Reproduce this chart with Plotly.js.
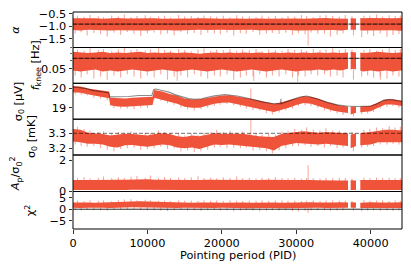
<!DOCTYPE html>
<html><head><meta charset="utf-8">
<script src="https://cdn.plot.ly/plotly-3.0.1.min.js"></script>
<style>html,body{margin:0;padding:0;background:#fff;}#chart{width:411px;height:272px;}</style>
</head><body><div id="chart"></div>
<script>
// shared PID grid (null values in series mark data gaps)
const PID = [0,1000,2000,3000,4000,5000,6000,7000,8000,9000,10000,11000,12000,13000,14000,15000,16000,17000,18000,19000,20000,21000,22000,23000,24000,25000,26000,27000,28000,29000,30000,31000,32000,33000,34000,35000,36000,36960,37140,37320,37680,38040,38330,38615,39000,40000,41000,42000,43000,44000,44220];
// PIDs of the fine noise excursions read along the band edges
const spikeUpPid = [600,1500,2300,3400,4100,5200,6100,6900,7800,8600,9700,10400,11500,12300,13100,14200,15000,15900,16800,17600,18500,19300,20200,21100,22000,22800,23700,24600,25400,26300,27200,28100,28900,29800,30700,31400,32300,33200,34000,34900,35800,36600,37500,39100,39900,40800,41600,42500,43300,44000];
const spikeDnPid = [300,1100,1900,2800,3700,4600,5500,6400,7300,8200,9100,10000,10900,11800,12700,13600,14500,15400,16300,17200,18100,19000,19800,20700,21600,22500,23300,24200,25100,26000,26800,27700,28600,29500,30300,31200,32000,32900,33800,34600,35500,36300,37700,38800,39600,40400,41300,42200,43000,43800];

// Panel 1: alpha
const alphaHi = [-0.68,-0.67,-0.69,-0.68,-0.7,-0.68,-0.67,-0.69,-0.68,-0.7,-0.69,-0.68,-0.7,-0.69,-0.68,-0.7,-0.69,-0.68,-0.7,-0.69,-0.7,-0.68,-0.69,-0.7,-0.68,-0.69,-0.7,-0.69,-0.68,-0.7,-0.69,-0.7,-0.68,-0.69,-0.67,-0.69,-0.68,-0.7,null,-0.68,-0.7,-0.69,null,-0.67,-0.68,-0.67,-0.68,-0.66,-0.68,-0.67,-0.68];
const alphaLo = [-1.16,-1.18,-1.15,-1.17,-1.16,-1.18,-1.17,-1.15,-1.16,-1.17,-1.18,-1.16,-1.15,-1.17,-1.18,-1.16,-1.17,-1.15,-1.16,-1.17,-1.15,-1.16,-1.17,-1.16,-1.15,-1.17,-1.16,-1.15,-1.17,-1.16,-1.18,-1.17,-1.16,-1.15,-1.17,-1.16,-1.18,-1.15,null,-1.14,-1.16,-1.15,null,-1.17,-1.18,-1.17,-1.16,-1.18,-1.17,-1.19,-1.18];
const alphaUpTip = [-0.58,-0.62,-0.55,-0.6,-0.64,-0.57,-0.61,-0.53,-0.63,-0.59,-0.56,-0.62,-0.6,-0.58,-0.65,-0.55,-0.61,-0.59,-0.63,-0.57,-0.6,-0.62,-0.58,-0.64,-0.56,-0.61,-0.6,-0.63,-0.57,-0.62,-0.59,-0.64,-0.58,-0.61,-0.55,-0.6,-0.63,-0.57,-0.56,-0.59,-0.62,-0.55,-0.6,-0.58,-0.57,-0.53,-0.61,-0.56,-0.59,-0.57];
const alphaDnTip = [-1.3,-1.25,-1.38,-1.28,-1.33,-1.42,-1.27,-1.35,-1.24,-1.31,-1.4,-1.29,-1.26,-1.34,-1.3,-1.37,-1.25,-1.32,-1.28,-1.36,-1.27,-1.3,-1.33,-1.26,-1.38,-1.29,-1.31,-1.24,-1.35,-1.3,-1.28,-1.32,-1.27,-1.36,-1.29,-1.33,-1.26,-1.31,-1.3,-1.42,-1.35,-1.3,-1.38,-1.45,-1.33,-1.4,-1.3,-1.43,-1.36,-1.32];
const alphaRef = -0.92;

// Panel 2: f_knee [Hz]
const fkHi = [0.073,0.072,0.071,0.072,0.073,0.071,0.072,0.071,0.072,0.073,0.071,0.072,0.071,0.072,0.071,0.072,0.071,0.07,0.071,0.072,0.071,0.072,0.071,0.072,0.071,0.072,0.071,0.072,0.071,0.072,0.071,0.072,0.071,0.072,0.071,0.072,0.071,0.072,null,0.073,0.072,0.072,null,0.072,0.071,0.072,0.073,0.072,0.071,0.072,0.071];
const fkLo = [0.048,0.047,0.048,0.049,0.047,0.048,0.047,0.048,0.049,0.048,0.047,0.048,0.049,0.048,0.047,0.048,0.049,0.048,0.047,0.048,0.049,0.048,0.047,0.048,0.049,0.048,0.047,0.048,0.049,0.048,0.047,0.048,0.048,0.049,0.048,0.049,0.048,0.05,null,0.049,0.05,0.049,null,0.048,0.047,0.048,0.047,0.048,0.047,0.048,0.048];
const fkUpTip = [0.077,0.075,0.079,0.076,0.078,0.074,0.077,0.08,0.076,0.078,0.075,0.077,0.079,0.076,0.075,0.078,0.076,0.074,0.077,0.079,0.075,0.077,0.076,0.078,0.075,0.077,0.076,0.078,0.074,0.077,0.076,0.075,0.078,0.076,0.077,0.075,0.078,0.076,0.077,0.079,0.076,0.078,0.077,0.076,0.078,0.075,0.077,0.079,0.076,0.078];
const fkDnTip = [0.043,0.041,0.044,0.04,0.042,0.039,0.043,0.041,0.044,0.042,0.04,0.043,0.041,0.044,0.039,0.042,0.043,0.041,0.044,0.042,0.04,0.043,0.042,0.044,0.039,0.041,0.043,0.042,0.044,0.041,0.043,0.042,0.044,0.041,0.043,0.042,0.044,0.043,0.044,0.042,0.043,0.041,0.039,0.042,0.043,0.041,0.042,0.04,0.043,0.042];
const fkRef = 0.063;

// Panel 3: sigma0 [uV] (own grid for the steps)
const sigPid = [0,1000,2000,3000,4000,4850,5000,6000,7000,8000,9000,10000,10700,10900,12000,13000,14000,15000,16000,17000,18000,19000,20000,21000,22000,23000,24000,25000,26000,27000,28000,29000,30000,31000,32000,33000,34000,35000,36000,36960,37140,37320,37680,38040,38330,38615,39000,40000,41000,42000,43000,44000,44220];
const sigHi = [20.1,20.08,19.98,19.93,19.86,19.82,19.5,19.48,19.47,19.5,19.52,19.53,19.55,19.9,19.82,19.7,19.6,19.46,19.42,19.43,19.5,19.58,19.62,19.63,19.58,19.5,19.44,19.35,19.26,19.2,19.28,19.38,19.5,19.58,19.55,19.45,19.3,19.18,19.1,19.06,null,19.04,19.05,19.05,null,19.06,19.07,19.1,19.26,19.42,19.43,19.36,19.35];
const sigLo = [19.78,19.76,19.68,19.6,19.52,19.48,19.12,19.06,19.05,19.08,19.1,19.12,19.14,19.5,19.43,19.3,19.2,19.05,19.0,19.0,19.1,19.2,19.25,19.26,19.2,19.1,19.02,18.94,18.85,18.78,18.9,19.0,19.14,19.24,19.2,19.08,18.95,18.84,18.78,18.72,null,18.65,18.68,18.74,null,18.76,18.78,18.82,19.0,19.16,19.16,19.1,19.1];
const sigDnFrom = [19.87,19.86,19.79,19.72,19.64,19.59,19.19,19.16,19.16,19.18,19.2,19.22,19.6,19.54,19.44,19.34,19.22,19.13,19.1,19.12,19.21,19.3,19.34,19.36,19.33,19.25,19.18,19.1,19.03,18.95,18.89,18.96,19.06,19.17,19.27,19.33,19.3,19.19,19.08,19.0,18.91,18.86,18.78,18.87,18.9,18.99,19.15,19.26,19.26,19.21];
const sigDnTip = [19.68,19.66,19.62,19.5,19.45,19.38,18.98,18.95,18.96,18.92,19.0,18.98,19.4,19.35,19.22,19.15,19.0,18.9,18.85,18.92,19.0,19.08,19.15,19.18,19.12,19.05,18.95,18.88,18.85,18.72,18.65,18.75,18.86,18.95,19.08,19.12,19.08,19.0,18.85,18.8,18.7,18.62,18.55,18.66,18.7,18.78,18.95,19.05,19.08,19.0];
const sigModelPid = [0,800,1700,2600,3900,4800,4950,6000,7500,8800,10600,10850,11100,12000,12900,13800,14700,15500,16400,17300,17800,19000,20400,21300,22100,23800,25600,27000,27900,27950,27960,29200,30500,31400,32800,34100,35500,36800,38200,40000,40900,41700,42600,43500,44220];
const sigModel = [20.05,20.0,19.98,19.88,19.79,19.76,19.55,19.55,19.57,19.62,19.62,19.93,19.95,19.87,19.79,19.65,19.54,19.46,19.43,19.45,19.5,19.6,19.67,19.64,19.59,19.45,19.28,19.2,19.2,19.45,19.2,19.37,19.54,19.59,19.45,19.28,19.14,19.08,19.06,19.08,19.2,19.37,19.42,19.36,19.31];

// Panel 4: sigma0 [mK]
const s4Hi = [3.33,3.325,3.305,3.3,3.295,3.285,3.29,3.298,3.295,3.29,3.285,3.295,3.3,3.295,3.28,3.275,3.285,3.28,3.29,3.3,3.298,3.3,3.297,3.295,3.285,3.28,3.278,3.275,3.295,3.305,3.31,3.315,3.31,3.305,3.31,3.305,3.3,3.3,null,3.29,3.295,3.3,null,3.3,3.305,3.31,3.32,3.325,3.325,3.32,3.32];
const s4Lo = [3.245,3.24,3.23,3.23,3.225,3.21,3.205,3.22,3.222,3.215,3.21,3.22,3.225,3.22,3.205,3.2,3.205,3.195,3.21,3.225,3.222,3.225,3.22,3.22,3.21,3.205,3.2,3.185,3.215,3.225,3.235,3.235,3.23,3.225,3.23,3.225,3.22,3.215,null,3.2,3.205,3.215,null,3.22,3.225,3.225,3.24,3.245,3.245,3.24,3.24];
const s4UpTip = [3.345,3.33,3.32,3.31,3.315,3.3,3.31,3.305,3.315,3.3,3.305,3.3,3.32,3.31,3.305,3.3,3.285,3.3,3.29,3.305,3.31,3.325,3.31,3.318,3.305,3.312,3.3,3.3,3.29,3.295,3.29,3.315,3.32,3.33,3.325,3.34,3.325,3.32,3.335,3.32,3.318,3.31,3.31,3.325,3.33,3.34,3.335,3.35,3.34,3.345];
const s4DnTip = [3.225,3.215,3.21,3.215,3.2,3.19,3.18,3.195,3.2,3.205,3.19,3.195,3.2,3.21,3.195,3.2,3.18,3.185,3.175,3.18,3.19,3.205,3.21,3.2,3.205,3.2,3.205,3.185,3.19,3.18,3.165,3.185,3.2,3.215,3.215,3.22,3.21,3.215,3.205,3.215,3.2,3.205,3.18,3.205,3.21,3.215,3.225,3.225,3.23,3.225];
const s4Ref = 3.3;

// Panel 5: A_p / sigma0^2
const apHi = [0.72,0.74,0.73,0.72,0.74,0.73,0.75,0.74,0.76,0.8,0.78,0.75,0.74,0.76,0.73,0.74,0.72,0.73,0.75,0.74,0.73,0.72,0.74,0.73,0.72,0.73,0.74,0.72,0.73,0.72,0.73,0.74,0.72,0.71,0.72,0.71,0.7,0.7,null,0.71,0.7,0.7,null,0.72,0.71,0.72,0.73,0.72,0.71,0.72,0.72];
const apLo = [0.07,0.08,0.07,0.09,0.08,0.07,0.08,0.07,0.09,0.08,0.07,0.08,0.09,0.07,0.08,0.07,0.08,0.09,0.07,0.08,0.07,0.08,0.09,0.08,0.07,0.08,0.07,0.09,0.08,0.07,0.08,0.07,0.08,0.09,0.08,0.07,0.08,0.08,null,0.08,0.09,0.08,null,0.08,0.07,0.08,0.07,0.08,0.09,0.08,0.08];
const apUpTip = [0.85,0.9,0.82,0.88,0.95,0.84,0.9,0.86,0.93,0.98,0.88,1.02,0.86,0.92,0.85,0.89,0.84,0.9,0.97,0.86,0.88,0.83,0.9,0.86,0.95,0.84,0.88,0.82,0.87,0.85,0.9,0.86,0.84,0.88,0.83,0.86,0.84,0.82,0.86,0.84,0.88,0.85,0.83,0.87,0.84,0.89,0.85,0.88,0.84,0.86];

// Panel 6: chi^2
const chiHi = [3.0,3.1,3.0,2.9,3.0,3.1,3.3,3.5,3.6,3.5,3.4,3.3,3.1,3.0,3.1,3.0,2.9,3.0,3.1,3.0,2.9,3.0,3.1,3.0,2.9,3.0,3.1,3.0,2.9,3.0,3.1,3.2,3.1,3.0,2.9,3.0,3.1,3.0,null,3.1,3.0,3.0,null,2.9,3.0,3.1,3.0,2.9,3.0,3.1,3.0];
const chiLo = [0.6,0.5,0.6,0.7,0.6,0.5,0.6,0.8,0.9,0.8,0.7,0.6,0.5,0.6,0.5,0.6,0.7,0.5,0.6,0.5,0.6,0.5,0.6,0.5,0.4,0.5,0.6,0.5,0.4,0.5,0.6,0.4,0.5,0.6,0.5,0.4,0.5,0.6,null,0.6,0.7,0.6,null,0.5,0.6,0.5,0.4,0.5,0.6,0.5,0.5];
const chiUpTip = [3.8,3.6,4.0,3.7,3.9,3.6,4.1,4.3,4.4,4.0,4.2,3.9,3.7,3.8,3.6,3.9,3.7,3.8,3.6,3.9,3.7,3.8,3.6,3.9,3.7,3.6,3.8,3.7,3.9,3.6,3.8,4.0,3.7,3.8,3.6,3.7,3.9,3.6,3.8,3.9,3.7,3.8,3.6,3.9,3.7,3.8,3.9,3.6,3.8,3.7];
const chiDnTip = [-0.3,-0.6,-0.2,-0.5,-0.4,-0.7,-0.3,-0.1,-0.2,0.1,-0.3,-0.5,-0.4,-0.6,-0.8,-0.5,-0.3,-0.6,-0.4,-0.7,-0.5,-0.3,-0.6,-0.4,-0.9,-0.6,-0.5,-0.7,-1.0,-0.6,-0.4,-0.6,-0.5,-0.8,-1.0,-0.7,-0.6,-0.4,-0.5,-0.7,-0.6,-0.5,-0.7,-0.9,-0.6,-0.5,-0.7,-0.6,-0.8,-0.6];

// isolated outliers
const spikes1 = {x:[31600], from:[-1.15], to:[-1.78]};
const spikes2 = {x:[14000,24300,30200,41300], from:[0.048,0.048,0.047,0.047], to:[0.038,0.038,0.0373,0.039]};
const spikes3 = {x:[23900], from:[19.4], to:[19.97]};
const spikes4 = {x:[23900], from:[3.29], to:[3.39]};
const spikes5 = {x:[31600], from:[0.7], to:[1.69]};
const spikes6 = {x:[31600], from:[0.5], to:[-1.6]};

const xTicks = [0,10000,20000,30000,40000];
const xMax = 44220;

const RED = 'rgb(239,83,58)';
const RED_L = 'rgba(239,83,58,0.5)';
const FONT = 'DejaVu Sans';
const FS = 11.3;

function band(xs, lo, hi){
  const X=[],Y=[]; let seg=[];
  const flush=()=>{ if(seg.length){ seg.forEach(i=>{X.push(xs[i]);Y.push(hi[i]);}); seg.slice().reverse().forEach(i=>{X.push(xs[i]);Y.push(lo[i]);}); X.push(null);Y.push(null);} seg=[]; };
  for(let i=0;i<xs.length;i++){ if(lo[i]==null||hi[i]==null) flush(); else seg.push(i); }
  flush();
  return {X,Y};
}
function bandTrace(xs, lo, hi, ax, color){
  const b = band(xs, lo, hi);
  return {x:b.X, y:b.Y, yaxis:ax, xaxis:'x', type:'scatter', mode:'lines', fill:'toself', fillcolor:color, line:{width:0, color:color}, hoverinfo:'skip', showlegend:false};
}
function spikeTrace(xs, from, to, ax, color, w){
  const X=[],Y=[];
  xs.forEach((v,i)=>{const f = Array.isArray(from)?from[i]:from; X.push(v,v,null);Y.push(f,to[i],null);});
  return {x:X, y:Y, yaxis:ax, type:'scatter', mode:'lines', line:{width:w||1, color:color}, showlegend:false, hoverinfo:'skip'};
}
function sp(s, ax){ return spikeTrace(s.x, s.from, s.to, ax, RED_L, 1); }
function hline(v, ax, color, dash, w){
  return {x:[0,xMax], y:[v,v], yaxis:ax, type:'scatter', mode:'lines', line:{width:w, color:color, dash:dash}, showlegend:false, hoverinfo:'skip'};
}

const traces = [
  spikeTrace(spikeUpPid, alphaRef, alphaUpTip, 'y', RED_L, 1.1),
  spikeTrace(spikeDnPid, alphaRef, alphaDnTip, 'y', RED_L, 1.1),
  bandTrace(PID, alphaLo, alphaHi, 'y', RED),
  sp(spikes1, 'y'),
  hline(alphaRef, 'y', 'rgba(0,0,0,0.35)', 'solid', 1.2),
  hline(alphaRef, 'y', 'rgba(0,0,0,0.55)', '4px,2px', 1.4),

  spikeTrace(spikeUpPid, fkRef, fkUpTip, 'y2', RED_L, 1.1),
  spikeTrace(spikeDnPid, fkRef, fkDnTip, 'y2', RED_L, 1.1),
  bandTrace(PID, fkLo, fkHi, 'y2', RED),
  sp(spikes2, 'y2'),
  hline(fkRef, 'y2', 'rgba(0,0,0,0.35)', 'solid', 1.2),
  hline(fkRef, 'y2', 'rgba(0,0,0,0.55)', '4px,2px', 1.4),

  spikeTrace(spikeDnPid, sigDnFrom, sigDnTip, 'y3', RED_L, 1.1),
  bandTrace(sigPid, sigLo, sigHi, 'y3', RED),
  sp(spikes3, 'y3'),
  {x:sigModelPid, y:sigModel, yaxis:'y3', type:'scatter', mode:'lines', line:{width:1.1, color:'rgba(0,0,0,0.45)'}, showlegend:false, hoverinfo:'skip'},

  spikeTrace(spikeUpPid, 3.26, s4UpTip, 'y4', RED_L, 1.1),
  spikeTrace(spikeDnPid, 3.26, s4DnTip, 'y4', RED_L, 1.1),
  bandTrace(PID, s4Lo, s4Hi, 'y4', RED),
  sp(spikes4, 'y4'),
  hline(s4Ref, 'y4', 'rgba(0,0,0,0.45)', '4px,2px', 1.2),

  spikeTrace(spikeUpPid, 0.4, apUpTip, 'y5', RED_L, 1.1),
  bandTrace(PID, apLo, apHi, 'y5', RED),
  sp(spikes5, 'y5'),

  spikeTrace(spikeUpPid, 1.8, chiUpTip, 'y6', RED_L, 1.1),
  spikeTrace(spikeDnPid, 1.8, chiDnTip, 'y6', RED_L, 1.1),
  bandTrace(PID, chiLo, chiHi, 'y6', RED),
  sp(spikes6, 'y6'),
  hline(0, 'y6', 'rgba(0,0,0,0.85)', 'solid', 1)
];

const doms = [[0.8364,1],[0.6714,0.8364],[0.506,0.6714],[0.341,0.506],[0.1728,0.341],[0,0.1728]];
function yax(i, extra){
  return Object.assign({domain:doms[i], anchor:'x', showgrid:false, zeroline:false, showline:false,
    ticks:'outside', ticklen:3.5, tickwidth:0.8, tickcolor:'#000',
    tickfont:{family:FONT, size:FS, color:'#000'}, fixedrange:true}, extra);
}

const layout = {
  width:411, height:272,
  margin:{l:73, r:9, t:12, b:43, pad:0},
  paper_bgcolor:'#fff', plot_bgcolor:'#fff',
  showlegend:false,
  xaxis:{domain:[0,1], range:[0,xMax], anchor:'y6', showgrid:false, zeroline:false, showline:false,
    tickvals:xTicks, tickformat:'d', ticks:'outside', ticklen:3.5, tickwidth:0.8, tickcolor:'#000',
    tickfont:{family:FONT, size:FS, color:'#000'}},
  yaxis: yax(0,{range:[-1.86,-0.43], tickvals:[-0.5,-1.0,-1.5], ticktext:['\u22120.5','\u22121.0','\u22121.5']}),
  yaxis2: yax(1,{type:'log', range:[-1.444,-1.094], tickvals:[0.05], ticktext:['0.05'],
    minor:{tickvals:[0.06,0.07,0.08], ticks:'outside', ticklen:2, tickwidth:0.6, tickcolor:'#000'}}),
  yaxis3: yax(2,{range:[18.41,20.24], tickvals:[19,20], ticktext:['19','20']}),
  yaxis4: yax(3,{range:[3.155,3.395], tickvals:[3.2,3.3], ticktext:['3.2','3.3']}),
  yaxis5: yax(4,{range:[-0.02,2.35], tickvals:[0,2], ticktext:['0','2']}),
  yaxis6: yax(5,{range:[-8.7,7.8], tickvals:[-5,0,5], ticktext:['\u22125','0','5']}),
  shapes: doms.map(d=>({type:'rect', xref:'paper', yref:'paper', x0:0, x1:1, y0:d[0], y1:d[1], line:{color:'#000', width:1}, fillcolor:'rgba(0,0,0,0)', layer:'above'})),
  annotations: [
    {text:'<i>α</i>', x:-0.1733, y:0.918},
    {text:'<i>f</i><sub>knee</sub> [Hz]', x:-0.1125, y:0.754},
    {text:'σ<sub>0</sub> [μV]', x:-0.1641, y:0.5887},
    {text:'σ<sub>0</sub> [mK]', x:-0.1246, y:0.4235},
    {text:'<i>A</i><sub>p</sub>/σ<sub>0</sub><sup>2</sup>', x:-0.1733, y:0.2569},
    {text:'χ<sup>2</sup>', x:-0.1307, y:0.0864}
  ].map(a=>Object.assign({xref:'paper', yref:'paper', xanchor:'center', yanchor:'middle', textangle:-90, showarrow:false,
      font:{family:FONT, size:FS, color:'#000'}}, a)).concat([
    {text:'Pointing period (PID)', xref:'paper', yref:'paper', x:0.5, y:-0.1244, xanchor:'center', yanchor:'middle', showarrow:false,
     font:{family:FONT, size:FS, color:'#000'}}
  ])
};

Plotly.newPlot('chart', traces, layout, {staticPlot:true, displayModeBar:false});
</script>
</body></html>
